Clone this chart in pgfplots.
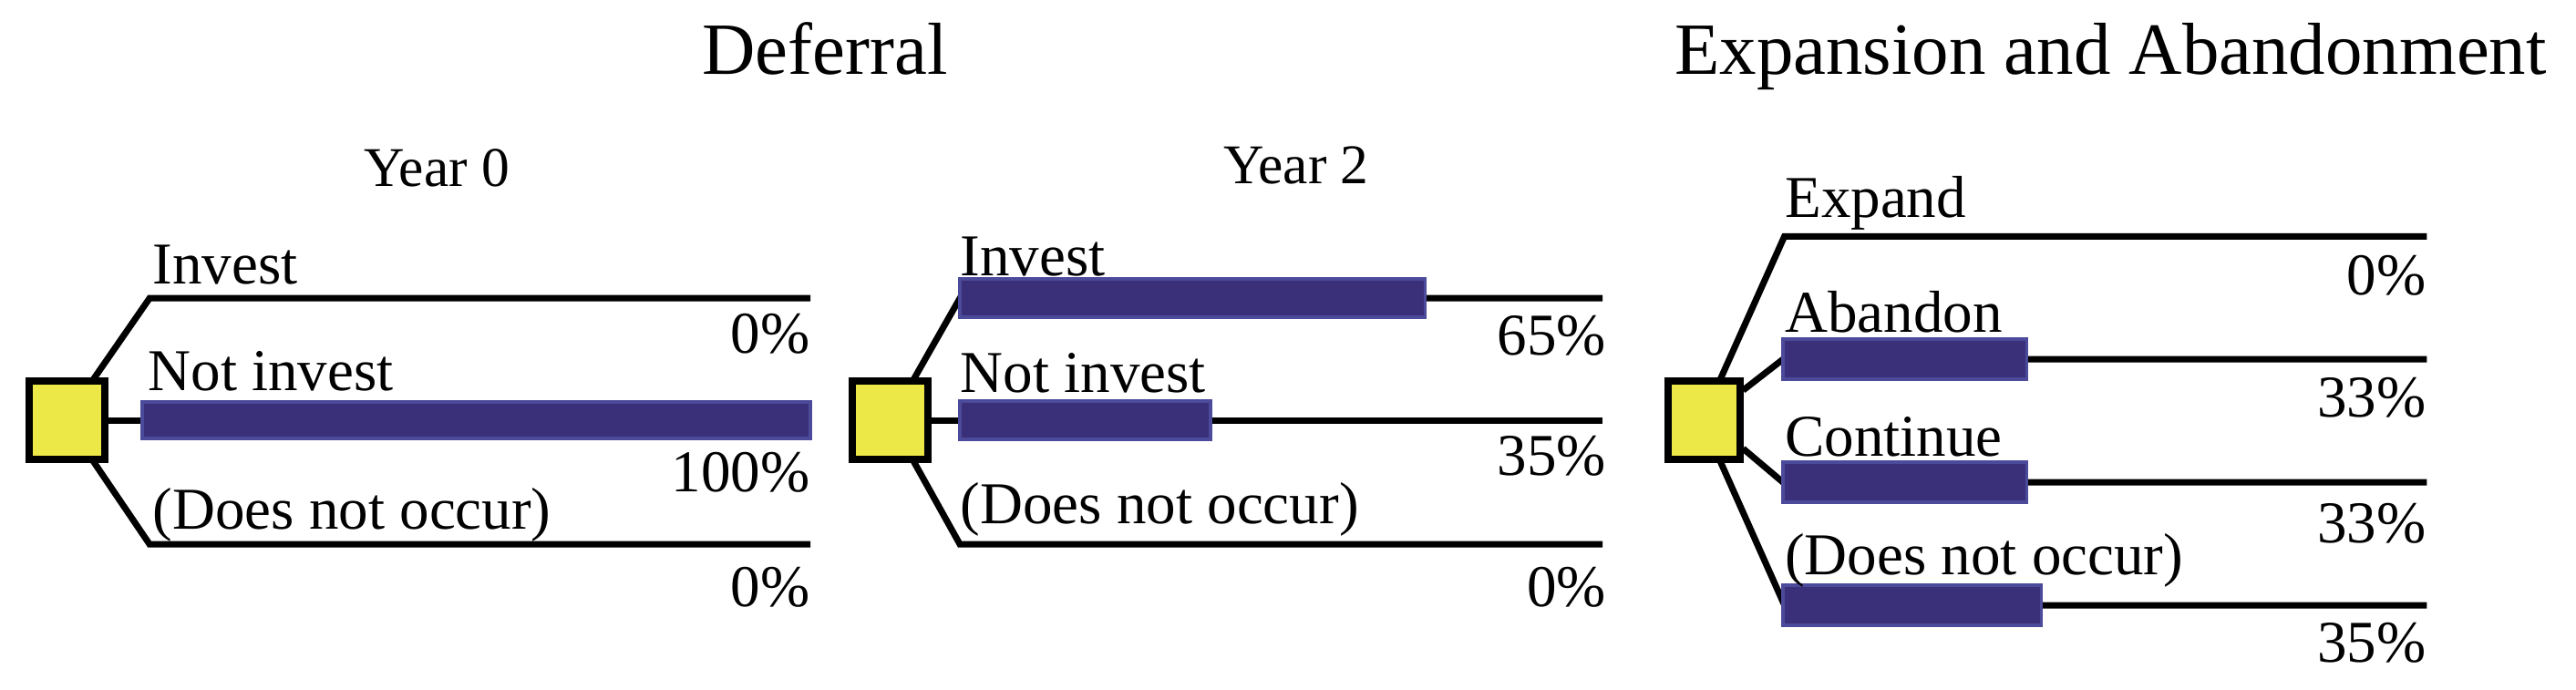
\documentclass[border=0pt]{standalone}
\usepackage{pgfplots}
\pgfplotsset{compat=1.18}
\usepackage{fontspec}
\setmainfont{Liberation Serif}
\definecolor{boxyel}{RGB}{236,232,72}
\definecolor{barfill}{RGB}{58,48,122}
\definecolor{baredge}{RGB}{76,74,154}

\pgfplotsset{
  tree/.style={hide axis, clip=false, ymin=0, ymax=757, y=0.01cm, anchor=south west},
  branch/.style={black, line width=2pt, no marks, line join=miter},
  prob/.style={xbar, bar width=42, bar shift=0pt, fill=barfill, draw=baredge, line width=1pt},
}
\newcommand{\lbl}{\fontsize{18.5}{20}\selectfont}
\newcommand{\yr}{\fontsize{17.5}{19}\selectfont}
\newcommand{\ttl}{\fontsize{23}{26}\selectfont}
\tikzset{lw/.style={anchor=base west, inner sep=0pt, font=\lbl},
         le/.style={anchor=base east, inner sep=0pt, font=\lbl}}

\begin{document}
\begin{tikzpicture}
% Deferral, year 0
\begin{axis}[tree, x=0.0733cm, xmin=-20, xmax=105, at={(0.094cm,0)}]
\addplot[branch] coordinates {(-7.5,339)(1.1,430)(100,430)};
\addplot[branch] coordinates {(-5.6,296)(100,296)};
\addplot[branch] coordinates {(-7.5,253)(1.1,160)(100,160)};
\addplot[prob, bar width=40] coordinates {(100,296)};
\draw[fill=boxyel, line width=2.3pt] (axis cs:-16.9,253) rectangle (axis cs:-5.6,339);
\node[lw] at (axis cs:1.5,446) {Invest};
\node[le] at (axis cs:100,370) {0\%};
\node[lw] at (axis cs:0.8,329) {Not invest};
\node[le] at (axis cs:100,218) {100\%};
\node[lw] at (axis cs:1.5,177) {(Does not occur)};
\node[le] at (axis cs:100,92) {0\%};
\node[anchor=base, inner sep=0pt, font=\yr] at (axis cs:44.1,553) {Year 0};
\node[anchor=base, inner sep=0pt, font=\ttl] at (axis cs:102.2,676) {Deferral};
\end{axis}
% Deferral, year 2
\begin{axis}[tree, x=0.0785cm, xmin=-16, xmax=95, at={(9.274cm,0)}]
\addplot[branch] coordinates {(-6.6,339)(0,430)(89.8,430)};
\addplot[branch] coordinates {(-4.5,296)(89.8,296)};
\addplot[branch] coordinates {(-6.6,253)(0,160)(89.8,160)};
\addplot[prob] coordinates {(65,430)};
\addplot[prob] coordinates {(35,296)};
\draw[fill=boxyel, line width=2.3pt] (axis cs:-15.0,253) rectangle (axis cs:-4.5,339);
\node[lw] at (axis cs:0,455) {Invest};
\node[le] at (axis cs:90.4,368) {65\%};
\node[lw] at (axis cs:0,327) {Not invest};
\node[le] at (axis cs:90.4,236) {35\%};
\node[lw] at (axis cs:0,183) {(Does not occur)};
\node[le] at (axis cs:90.4,92) {0\%};
\node[anchor=base, inner sep=0pt, font=\yr] at (axis cs:47.0,556) {Year 2};
\end{axis}
% Expansion and abandonment
\begin{axis}[tree, x=0.081cm, xmin=-20, xmax=105, at={(17.94cm,0)}]
\addplot[branch] coordinates {(-8.6,339)(0.2,498)(87.2,498)};
\addplot[branch] coordinates {(-5.4,329)(0,363)(87.2,363)};
\addplot[branch] coordinates {(-5.4,265)(0,228)(87.2,228)};
\addplot[branch] coordinates {(-8.6,253)(0.2,93)(87.2,93)};
\addplot[prob, bar width=44] coordinates {(33,363)};
\addplot[prob, bar width=44] coordinates {(33,228)};
\addplot[prob, bar width=44] coordinates {(35,93)};
\draw[fill=boxyel, line width=2.3pt] (axis cs:-15.6,253) rectangle (axis cs:-5.8,339);
\node[lw] at (axis cs:0.2,519) {Expand};
\node[le] at (axis cs:87.2,434) {0\%};
\node[lw] at (axis cs:0.2,393) {Abandon};
\node[le] at (axis cs:87.2,300) {33\%};
\node[lw] at (axis cs:0.2,257) {Continue};
\node[le] at (axis cs:87.2,162) {33\%};
\node[lw] at (axis cs:0.2,127) {(Does not occur)};
\node[le] at (axis cs:87.2,31) {35\%};
\node[anchor=base, inner sep=0pt, font=\ttl] at (axis cs:44.4,676) {Expansion and Abandonment};
\end{axis}
\pgfresetboundingbox
\path[use as bounding box] (0,0) rectangle (28.26cm,7.57cm);
\end{tikzpicture}
\end{document}
